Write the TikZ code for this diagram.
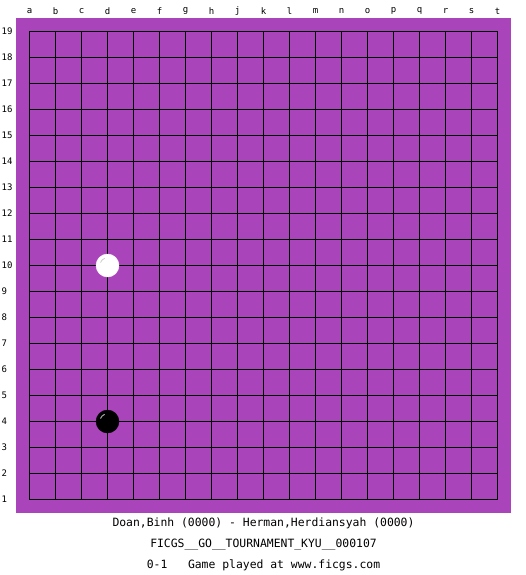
\documentclass[tikz,border=0pt]{standalone}
\usepackage{fontspec}
\setmonofont{DejaVu Sans Mono}
\definecolor{boardpurple}{RGB}{170,68,187}
\begin{document}
\begin{tikzpicture}[x=1pt,y=-1pt,
  lbl/.style={font=\ttfamily\fontsize{9}{10}\selectfont, inner sep=0pt},
  rowlbl/.style={lbl, anchor=west},
  caption/.style={font=\ttfamily\fontsize{11.4}{12}\selectfont, inner sep=0pt},
  gridline/.style={black, line width=1pt},
  whitestone/.style={circle, fill=white, draw=white, minimum size=23pt, inner sep=0pt},
  blackstone/.style={circle, fill=black, draw=black, minimum size=23pt, inner sep=0pt}]
\useasboundingbox (0,0) rectangle (525,575);
\fill[white] (0,0) rectangle (525,575);
\node[fill=boardpurple, minimum width=495pt, minimum height=495pt, inner sep=0pt, anchor=north west] (board) at (16,18) {};
% grid
\foreach \i in {0,...,18} {
  \draw[gridline] ({29.5+26*\i},31.5) -- ({29.5+26*\i},499.5);
  \draw[gridline] (29.5,{31.5+26*\i}) -- (497.5,{31.5+26*\i});
}
% column labels
\foreach \c [count=\i from 0] in {a,b,c,d,e,f,g,h,j,k,l,m,n,o,p,q,r,s,t} {
  \node[lbl] (col\c) at ({29.5+26*\i},11) {\c};
}
% row labels
\foreach \r in {1,...,19} {
  \node[rowlbl] (row\r) at (1.5,{31.5+26*(19-\r)}) {\r};
}
% stones
\node[whitestone] (d10) at (107.5,265.5) {};
\node[blackstone] (d4) at (107.5,421.5) {};
\draw[gray!70, line width=1pt] ([shift={(-7,-3)}]d4.center) arc[start angle=200, end angle=250, radius=7];
\draw[gray!40, line width=0.8pt] ([shift={(-7,-3)}]d10.center) arc[start angle=200, end angle=250, radius=7];
% captions
\node[caption] (players) at (263.5,523) {Doan,Binh (0000) - Herman,Herdiansyah (0000)};
\node[caption] (event) at (263.5,545) {FICGS\_\_GO\_\_TOURNAMENT\_KYU\_\_000107};
\node[caption] (result) at (263.5,565) {0-1\ \ \ Game played at www.ficgs.com};
\end{tikzpicture}
\end{document}
